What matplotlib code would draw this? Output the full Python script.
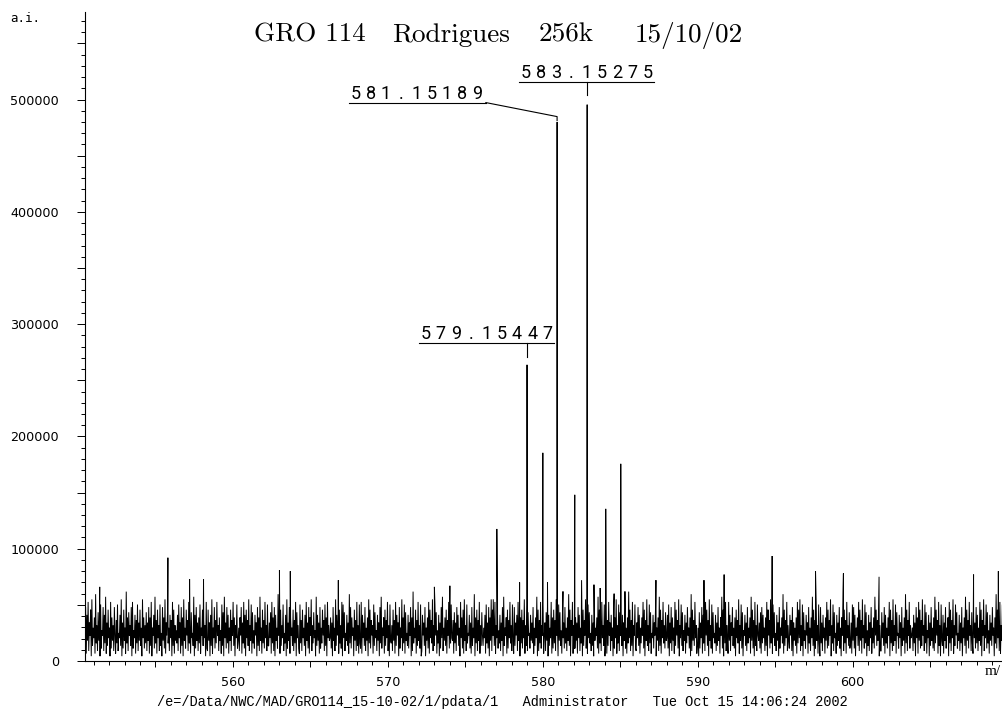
import matplotlib
matplotlib.use("Agg")
import matplotlib.pyplot as plt
import matplotlib.transforms as mtransforms
from matplotlib.ticker import MultipleLocator, FuncFormatter
import numpy as np

# ---------------- data ----------------
title_parts = ["GRO 114", "Rodrigues", "256k", "15/10/02"]
footer_text = "/e=/Data/NWC/MAD/GRO114_15-10-02/1/pdata/1   Administrator   Tue Oct 15 14:06:24 2002"
y_unit = "a.i."
x_unit = "m/"

mz_start, mz_stop = 550.45, 609.7

# baseline noise, hand-read amplitude codes (base-36 digit -> intensity)
noise_codes = (
    "4k2h7m3e9j1n5c8g2p6d3i7f1l4b9k3h6o2e5j8c1m4g7d3k9"
    "2f6l3a8h5n1e4j7c2q6g3i9d5k1m4b8h2f6l3e7j5c1n8g4d6"
    "i3e7k2g5m1c9h4o6f2j8d3l5a1k7g4n2e9i6c3h8f1m5j2d7b"
    "6h3l8e2k5g1n7c4j9f3m6d2i8a5o1h4k7e3g6l2c9j5f8d1m4"
    "3j7e1h5n2c8k4f6m9d3g7b2l5i1o8e4k6h2c7j3f9m5g1d8l4"
    "7c3g9k2e6m4h1j8f5n3d7l2i6b4h9e1k5g3o7c2j6f4m8d3l5"
    "5e8i2m6g3k1h7c4p9f2j5d8l3a6h1n4e7k2g9c5j3f6m1i8d4"
    "2l6f3j8c5h1m7e4k2g9n3d6i8b1o5h7e2k4c6j9f3l5g1m8d7"
    "8g4e1k7c3n5h9f2j6d4m1l8i3a7h5e2p6k4g9c1j7f3m5d2l6"
    "4m2h8e5k3c7g1n6j4f9d2l5i8b3h7e1k6o4c9g2j5f8m3d1l7"
    "6d3j7f2m5h9e1k4c8n3g6l2i7a5h4e9k1g3q6c8j2f5m7d4l1"
    "3h9e5k1c7g4m2j8f6n3d5l9i2b6h1e4k8o3c7g5j2f9m4d6l8"
    "7f2i6e3k9h5c1m8g4j2n7d3l6a9h4e2k5c8p1g6j3f7m2d5i9"
    "5c8h2l6e4k1g7n3j9f5m2d8i4b6h3e7k1o5c9g2j4f8m6d3l7"
    "2k5e9h3m7c1g6j4f8n2d5l3i9a4h7e6k2c5g8o1j3f6m4d9l2"
    "9e3i7k1h5c8m2g4j6f3n9d1l7i5b2h8e4k6c3g7p5j1f9m2d4"
    "4g7e2k8h3c6m1j5f9n4d2l8i6a3h5e1k7c9g4o2j6f3m8d5l1"
    "6j2f5m9e3h7c1k4g8n2d6l3i9b5h1e7k4c2g6q8j3f5m1d9l4"
    "3e8k5h2c6g9m4j1f7n5d3l6i2a8h4e9k1c7g3o5j2f8m6d4i7"
    "8h4l1e6k3g7c2m5j9f4n1d8l5i3b7h2e6k9c4g1p3j7f5m8d2"
    "5c1i4e8k2h6g3m9j5f1n7d4l2i8a6h3e5k7c2g9o4j1f6m3d8"
    "2m7h3e9k5c4g1j8f6n2d7l4i1b9h5e3k6c8g2o7j4f1m5d3l9"
    "7e4i2k6h8c3g5m1j9f4n6d2l8i5a3h7e1k4c9g6p2j5f8m3d7"
    "4h9f3k1e7c5g2m6j8n3d5l1i7b4h9e2k6c3g8o5j1f4m7d2l6"
    "1k6e3h8c2g7m4j5f9n1d6l3i8a2h5e7k4c1g9q3j6f2m8d5i4"
    "6e2l7k4h1c9g5m3j7f2n8d4l6i1b5h3e8k2c6g4o9j5f7m1d3"
    "3i8e5k2h6c4g9m1j6f3n5d7l2i9a4h8e1k5c7g2p6j3f9m4d8"
    "9c3h6e1k8g2m7j4f5n9d3l6i2b8h1e5k7c4g3o6j9f2m5d1l7"
    "5h2e7k4c9g1m6j3f8n2d5l9i4a7h3e6k1c8g5o2j7f4m9d3i6"
    "2g8e4k6h3c7m5j1f9n3d8l4i6b2h7e5k9c1g6p4j8f3m2d7l5"
)
noise_base = 2000
noise_step = 2300

# taller noise spikes
spike_mz = [551.4, 555.8, 557.2, 558.1, 563.0, 563.7, 566.8, 573.0, 574.0,
            576.8, 578.5, 580.3, 581.3, 582.5, 583.3, 583.7, 584.6, 585.3,
            587.3, 590.4, 591.7, 594.8, 597.6, 599.4, 601.7, 607.8, 609.4]
spike_int = [66000, 92000, 73000, 73000, 81000, 80000, 72000, 66000, 67000,
             55000, 70000, 70000, 62000, 72000, 68000, 65000, 60000, 62000,
             72000, 72000, 77000, 93500, 80000, 78000, 75000, 77000, 80000]

# isotope cluster peaks
peak_mz = [577.03, 578.98, 580.00, 580.92, 582.06, 582.86, 584.06, 585.03]
peak_int = [117600, 263800, 185400, 480000, 148000, 495500, 135500, 175600]

# labelled peaks
label_text = ["579.15447", "581.15189", "583.15275"]
label_peak_mz = [578.98, 580.92, 582.86]

# ---------------- figure ----------------
W, H = 1003, 709
fig = plt.figure(figsize=(W / 100, H / 100), dpi=100)
ax = fig.add_axes([85 / W, (H - 661) / H, 1 - 85 / W, (661 - 12) / H])

noise_vals = np.array([noise_base + int(c, 36) * noise_step for c in noise_codes], float)
noise_x = np.linspace(mz_start, mz_stop, len(noise_vals))
all_x = np.concatenate([noise_x, spike_mz, peak_mz])
all_y = np.concatenate([noise_vals, spike_int, peak_int])
order = np.argsort(all_x, kind="stable")
ax.plot(all_x[order], all_y[order], color="black", lw=0.7, solid_joinstyle="miter")

ax.set_xlim(mz_start, mz_stop)
ax.set_ylim(0, 578000)

for s in ["top", "right"]:
    ax.spines[s].set_visible(False)
for s in ["left", "bottom"]:
    ax.spines[s].set_linewidth(0.8)
    ax.spines[s].set_color("black")

ax.xaxis.set_major_locator(MultipleLocator(5))
ax.xaxis.set_minor_locator(MultipleLocator(1))
ax.xaxis.set_major_formatter(FuncFormatter(lambda v, p: f"{int(round(v))}" if round(v) % 10 == 0 else ""))
ax.yaxis.set_major_locator(MultipleLocator(50000))
ax.yaxis.set_minor_locator(MultipleLocator(10000))
ax.yaxis.set_major_formatter(FuncFormatter(lambda v, p: f"{int(round(v))}" if round(v) % 100000 == 0 else ""))

ax.tick_params(axis="x", which="major", direction="out", length=4.5, width=0.7, pad=6.0, labelsize=9.2)
ax.tick_params(axis="x", which="minor", direction="out", length=2.6, width=0.7)
ax.tick_params(axis="y", which="major", direction="out", length=5.8, width=0.7, pad=13.0, labelsize=9.2)
ax.tick_params(axis="y", which="minor", direction="out", length=2.9, width=0.7)

# ---------------- peak labels ----------------
def py2val(py):
    return (661 - py) * 100000 / 112.2

def px2mz(px):
    return 560 + (px - 234) / 15.5

layouts = [
    dict(x0=420, x1=555, y=343, lead=[(528, 343), (528, 357)]),
    dict(x0=350, x1=487, y=103, lead=[(487, 103), (558, 117), (558, 121)]),
    dict(x0=520, x1=655, y=82, lead=[(588, 82), (588, 95)]),
]
for txt, pmz, lay in zip(label_text, label_peak_mz, layouts):
    uy = py2val(lay["y"])
    ax.plot([px2mz(lay["x0"]), px2mz(lay["x1"])], [uy, uy], color="black", lw=0.8,
            clip_on=False)
    lx = [pmz if abs(px2mz(p[0]) - pmz) < 0.3 else px2mz(p[0]) for p in lay["lead"]]
    ly = [py2val(p[1]) for p in lay["lead"]]
    ax.plot(lx, ly, color="black", lw=0.8, clip_on=False)
    for i, ch in enumerate(txt):
        tr = mtransforms.offset_copy(ax.transData, fig=fig, x=6.5 + 15.25 * i, y=4,
                                     units="dots")
        ax.text(px2mz(lay["x0"]), uy, ch, transform=tr, ha="center", va="baseline",
                fontsize=13, family=["Roboto", "DejaVu Sans"], fontweight="normal",
                color="black", clip_on=False)

# ---------------- texts ----------------
title_x = [254, 392, 539, 635]
for t, x in zip(title_parts, title_x):
    fig.text(x / W, 1 - 42 / H, t, ha="left", va="baseline", fontsize=19.5,
             family=["cmr10", "DejaVu Serif"])

fig.text(10 / W, 1 - 18 / H, y_unit, ha="left", va="center", fontsize=9,
         family="DejaVu Sans Mono")
fig.text(985 / W, 1 - 675 / H, x_unit, ha="left", va="baseline", fontsize=11,
         family=["Liberation Serif", "DejaVu Serif"])
fig.text(157 / W, 1 - 702 / H, footer_text, ha="left", va="center", fontsize=9.8,
         family=["Liberation Mono", "DejaVu Sans Mono"])

fig.savefig("out.png", dpi=100, facecolor="white")
